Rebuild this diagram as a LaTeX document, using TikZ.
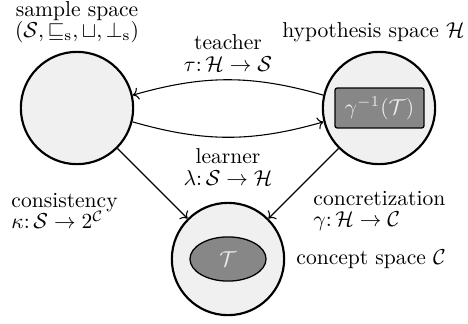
\documentclass[tikz,border=0pt]{standalone}
\usetikzlibrary{shapes.geometric,arrows.meta}
\begin{document}
\begin{tikzpicture}[x=0.0163cm,y=-0.0163cm,
  space/.style={circle,draw,line width=1pt,fill=black!6,minimum size=1.83cm,inner sep=0pt},
  inner/.style={draw,fill=black!47,text=black!8,line width=0.6pt},
  conn/.style={->,line width=0.5pt},
  lbl/.style={inner sep=0pt,align=left},
  clbl/.style={inner sep=0pt,align=center}]
\useasboundingbox (0,0) rectangle (468,323);
\node[space] (S) at (77,108) {};
\node[space] (H) at (379,108) {};
\node[space] (C) at (228,259) {};
\node[inner,rounded corners=1pt,minimum width=1.45cm,minimum height=0.65cm] (HT) at (379.5,108) {$\gamma^{-1}(\mathcal{T})$};
\node[inner,ellipse,minimum width=1.24cm,minimum height=0.72cm,inner sep=0pt] (CT) at (228,259) {$\mathcal{T}$};
\node[clbl] (Sl) at (77,22) {sample space\\[-2pt]$(\mathcal{S},\sqsubseteq_{\mathrm{s}},\sqcup,\bot_{\mathrm{s}})$};
\node[inner sep=0pt,anchor=east] (Hl) at (465,32) {hypothesis space $\mathcal{H}$};
\node[clbl] (tl) at (228,53) {teacher\\[-2pt]$\tau\colon\mathcal{H}\to\mathcal{S}$};
\node[clbl] (ll) at (228,167) {learner\\[-2pt]$\lambda\colon\mathcal{S}\to\mathcal{H}$};
\node[lbl,anchor=west] (kl) at (11,211) {consistency\\[-2pt]$\kappa\colon\mathcal{S}\to 2^{\mathcal{C}}$};
\node[lbl,anchor=west] (gl) at (313,211) {concretization\\[-2pt]$\gamma\colon\mathcal{H}\to\mathcal{C}$};
\node[lbl,anchor=west] (Cl) at (296,259) {concept space $\mathcal{C}$};
\draw[conn] (H.167) to[bend right=16] (S.13);
\draw[conn] (S.-14) to[bend right=16] (H.194);
\draw[conn] (S) -- (C);
\draw[conn] (H) -- (C);
\end{tikzpicture}
\end{document}
